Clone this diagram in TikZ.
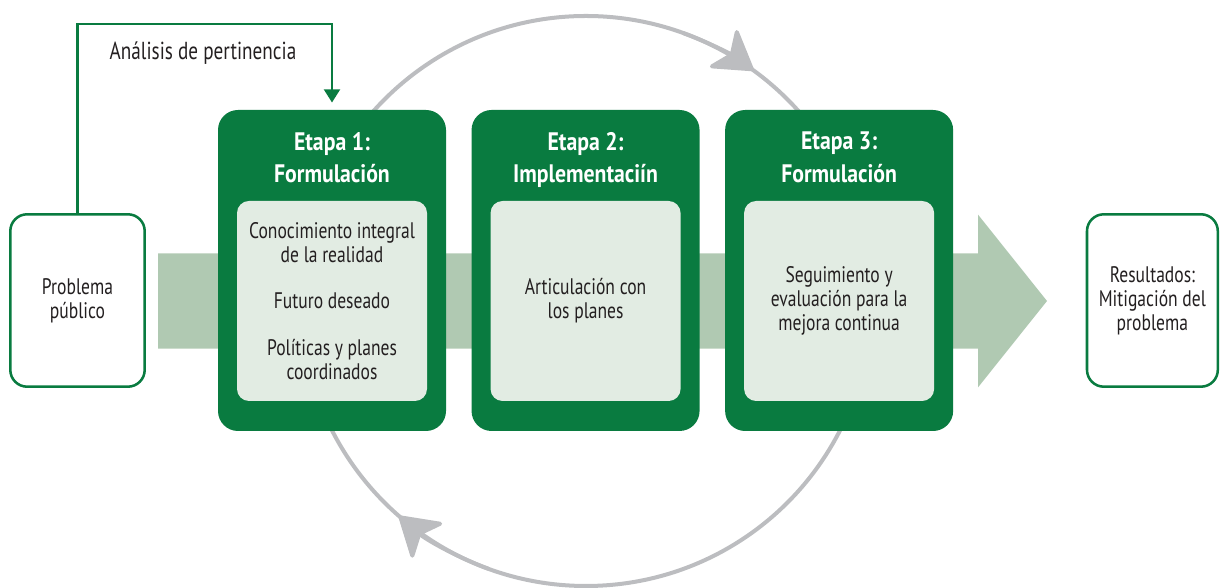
\documentclass[tikz,border=0pt]{standalone}
\usepackage{fontspec}
\setmainfont{PT Sans}[FakeStretch=0.78, BoldFeatures={FakeStretch=0.86}]
\usepackage{xcolor}
\usepackage{tikz}
\usetikzlibrary{positioning}
\usetikzlibrary{arrows.meta}

\definecolor{verde}{RGB}{9,123,64}
\definecolor{verdeclaro}{RGB}{176,201,178}
\definecolor{fondo}{RGB}{226,236,227}
\definecolor{gris}{RGB}{188,189,192}
\definecolor{texto}{RGB}{35,31,32}

\begin{document}
\begin{tikzpicture}[every node/.style={font=\fontsize{16}{17}\selectfont, text=texto, align=center},
		etapa/.style={rectangle, rounded corners=0.5cm, fill=verde, minimum width=5.7cm, minimum height=8.025cm},
		caja/.style={rectangle, rounded corners=0.3cm, fill=fondo, minimum width=4.75cm, minimum height=5cm, inner sep=0pt},
		extremo/.style={rectangle, rounded corners=0.42cm, draw=verde, line width=1.8pt, fill=white, minimum height=4.31cm},
		titulo/.style={font=\bfseries\fontsize{18}{23}\selectfont, text=white, inner sep=0pt},
		anillo/.style={draw=gris, line width=2.85pt},
		punta/.style={-{Stealth[length=1.05cm, width=1.3cm, inset=0.28cm, round]}},
		retro/.style={draw=verde, line width=1.6pt, -{Triangle[width=0.4cm, length=0.33cm]}, shorten >=0.18cm}]
	\useasboundingbox (0,0) rectangle (30.5,14.7);
	% ciclo de mejora continua
	\coordinate (centro) at (14.65,7.175);
	\draw[anillo] (centro) circle[radius=7.125cm];
	\draw[anillo, punta] (centro) ++(70:7.125) arc[start angle=70, end angle=54, radius=7.125cm];
	\draw[anillo, punta] (centro) ++(250:7.125) arc[start angle=250, end angle=229, radius=7.125cm];
	% flecha de fondo
	\fill[verdeclaro] (3.95,8.365) -- (24.45,8.365) -- (24.45,9.335) -- (26.175,7.175)
		-- (24.45,5.015) -- (24.45,5.985) -- (3.95,5.985) -- cycle;
	% etapas
	\node[etapa] (etapa1) at (8.3,7.9375) {};
	\node[etapa, right=0.625cm of etapa1] (etapa2) {};
	\node[etapa, right=0.625cm of etapa2] (etapa3) {};
	\node[titulo, below=0.55cm of etapa1.north] (titulo1) {Etapa 1:\\Formulación};
	\node[titulo, below=0.55cm of etapa2.north] (titulo2) {Etapa 2:\\Implementaciín};
	\node[titulo, below=0.55cm of etapa3.north] (titulo3) {Etapa 3:\\Formulación};
	\node[caja, above=0.75cm of etapa1.south] (caja1) {Conocimiento integral\\de la realidad\\[16pt]Futuro deseado\\[16pt]Políticas y planes\\coordinados};
	\node[caja, above=0.75cm of etapa2.south] (caja2) {Articulación con\\los planes};
	\node[caja, above=0.75cm of etapa3.south] (caja3) {Seguimiento y\\evaluación para la\\mejora continua};
	% extremos
	\node[extremo, minimum width=3.36cm] (problema) at (1.9375,7.1875) {Problema\\público};
	\node[extremo, minimum width=3.27cm] (resultados) at (28.81,7.1875) {Resultados:\\Mitigación del\\problema};
	% analisis de pertinencia
	\coordinate[above=2.15cm of etapa1.north] (codo);
	\draw[retro] (problema.north) |- (codo) -- (etapa1.north);
	\node[font=\fontsize{17.5}{19}\selectfont, anchor=base] (analisis) at (5.075,13.2) {Análisis de pertinencia};
\end{tikzpicture}
\end{document}
